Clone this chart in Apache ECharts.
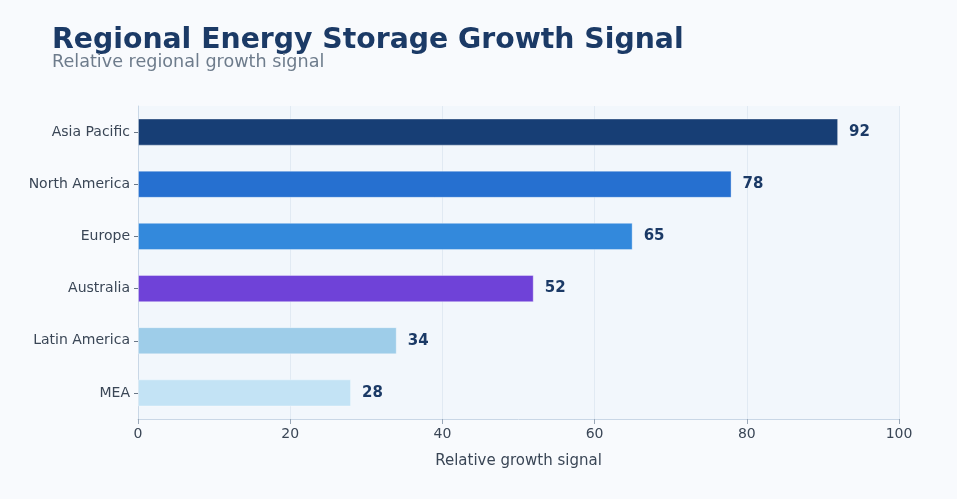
<!DOCTYPE html>
<html>
<head>
<meta charset="utf-8">
<script src="https://cdn.jsdelivr.net/npm/echarts@6/dist/echarts.min.js"></script>
<style>
  html, body { margin: 0; padding: 0; background: #f8fafd; }
  #chart { width: 957px; height: 499px; }
</style>
</head>
<body>
<div id="chart"></div>
<script>
const regions = ['Asia Pacific', 'North America', 'Europe', 'Australia', 'Latin America', 'MEA'];
const values = [92, 78, 65, 52, 34, 28];
const barColors = ['#173e75', '#2670d0', '#3389dc', '#6f42d8', '#9ecde9', '#c3e3f5'];

const chart = echarts.init(document.getElementById('chart'));
const font = 'DejaVu Sans';

chart.setOption({
  backgroundColor: '#f8fafd',
  textStyle: { fontFamily: font },
  title: {
    text: 'Regional Energy Storage Growth Signal',
    subtext: 'Relative regional growth signal',
    left: 47,
    top: 22,
    itemGap: -2,
    textStyle: { fontSize: 28.3, fontWeight: 'bold', color: '#1b3a66', fontFamily: font },
    subtextStyle: { fontSize: 17.6, color: '#6e7c8c', fontFamily: font }
  },
  grid: {
    left: 138,
    right: 58,
    top: 106,
    bottom: 80,
    show: true,
    backgroundColor: '#f2f7fc',
    borderWidth: 0
  },
  xAxis: {
    type: 'value',
    min: 0,
    max: 100,
    interval: 20,
    name: 'Relative growth signal',
    nameLocation: 'middle',
    nameGap: 35,
    nameTextStyle: { fontSize: 15, color: '#3a4656', fontFamily: font },
    axisLine: { show: true, lineStyle: { color: '#c9d7e6' } },
    axisTick: { show: true, lineStyle: { color: '#9aa8b8' }, length: 5 },
    axisLabel: { fontSize: 14, color: '#3a4656', margin: 8, fontFamily: font },
    splitLine: { show: true, lineStyle: { color: '#e1eaf3' } }
  },
  yAxis: {
    type: 'category',
    data: regions,
    inverse: true,
    axisLine: { show: true, lineStyle: { color: '#c9d7e6' } },
    axisTick: { show: true, alignWithLabel: true, length: 4, lineStyle: { color: '#6b7888' } },
    axisLabel: { fontSize: 14, color: '#3a4656', margin: 8, fontFamily: font },
    splitLine: { show: false }
  },
  series: [{
    type: 'bar',
    data: values.map((v, i) => ({
      value: v,
      itemStyle: { color: barColors[i] }
    })),
    barWidth: '52%',
    itemStyle: { borderColor: 'rgba(255,255,255,0.35)', borderWidth: 1 },
    label: {
      show: true,
      position: 'right',
      distance: 11,
      fontSize: 15,
      fontWeight: 'bold',
      color: '#1b3a66',
      fontFamily: font
    }
  }]
});
</script>
</body>
</html>
